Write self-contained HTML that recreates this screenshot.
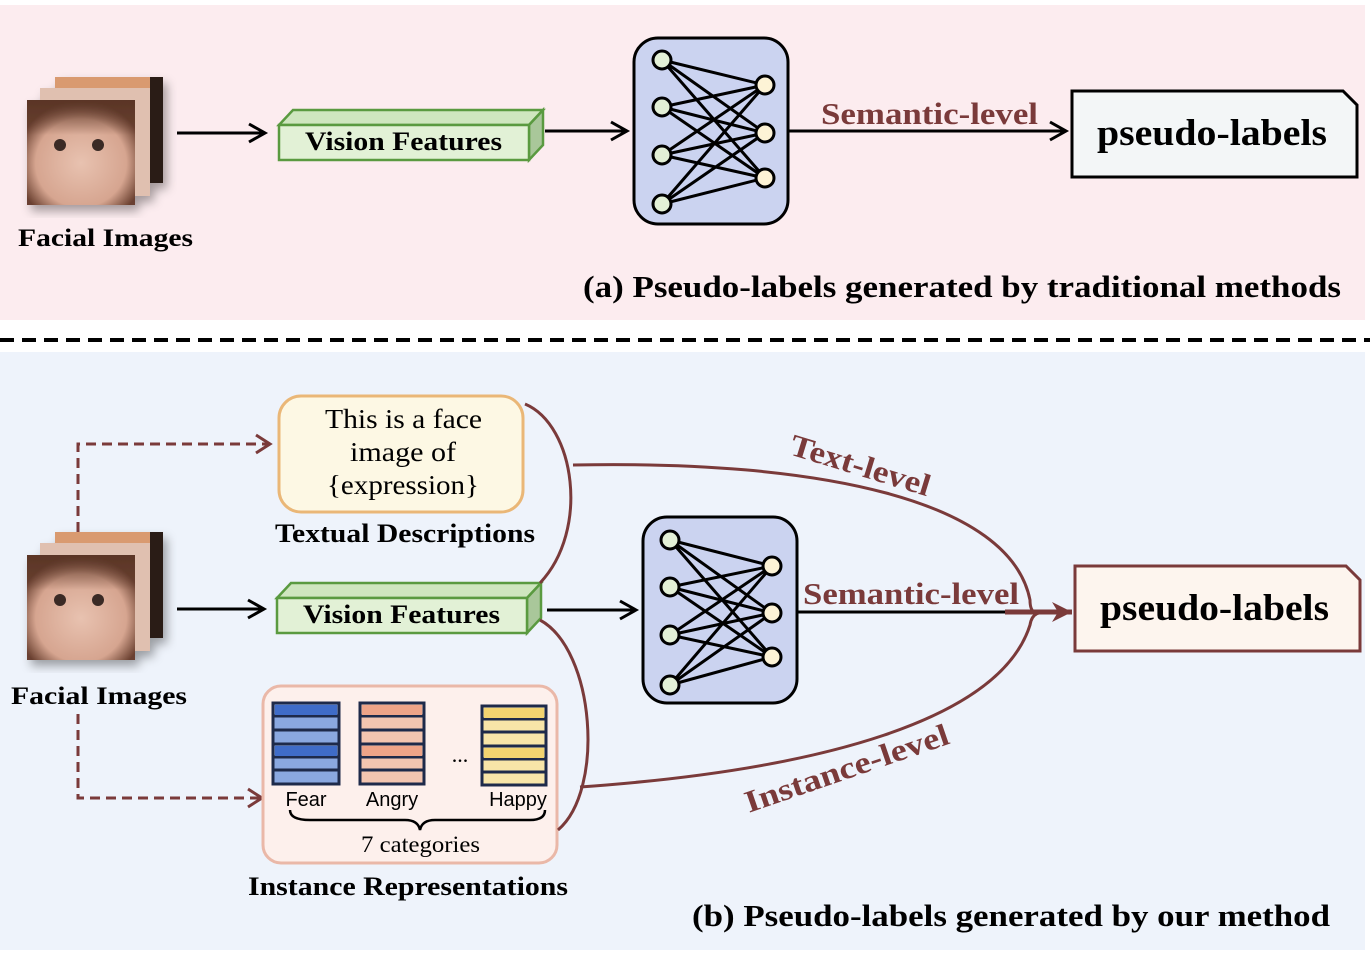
<!DOCTYPE html>
<html><head><meta charset="utf-8"><style>
body{margin:0;background:#fff;}
svg{display:block;font-family:"Liberation Serif",serif;}
</style></head><body>
<svg width="1370" height="957" viewBox="0 0 1370 957" xmlns="http://www.w3.org/2000/svg">
<defs>
<marker id="ab" markerWidth="30" markerHeight="30" refX="20" refY="15" orient="auto" markerUnits="userSpaceOnUse"><path d="M4,6 L20,15 L4,24" fill="none" stroke="#000" stroke-width="3"/></marker>
<marker id="ar" markerWidth="30" markerHeight="30" refX="20" refY="15" orient="auto" markerUnits="userSpaceOnUse"><path d="M6,6 L20,15 L6,24" fill="none" stroke="#7a3a3a" stroke-width="3"/></marker>
<marker id="arf" markerWidth="30" markerHeight="30" refX="24" refY="15" orient="auto" markerUnits="userSpaceOnUse"><path d="M4,5 L24,15 L4,25 L10,15Z" fill="#7a3a3a"/></marker>
<radialGradient id="face" cx="0.5" cy="0.6" r="0.6"><stop offset="0" stop-color="#e8c2b0"/><stop offset="0.7" stop-color="#d6a590"/><stop offset="1" stop-color="#6a4030"/></radialGradient>
<linearGradient id="hair" x1="0" y1="0" x2="0" y2="1"><stop offset="0" stop-color="#5a3526"/><stop offset="1" stop-color="#5a3526" stop-opacity="0"/></linearGradient>
<filter id="sh"><feDropShadow dx="4" dy="6" stdDeviation="5" flood-opacity="0.35"/></filter>
</defs>
<rect x="0" y="5" width="1365" height="315" fill="#fcecef"/>
<rect x="0" y="352" width="1365" height="598" fill="#eef3fb"/>
<line x1="0" y1="340" x2="1370" y2="340" stroke="#000" stroke-width="4" stroke-dasharray="14,8"/>

<g filter="url(#sh)">
<rect x="55" y="77" width="108" height="106" fill="#2a1a14"/>
<rect x="55" y="77" width="95" height="30" fill="#d99a70"/>
<rect x="40" y="88" width="110" height="108" fill="#e0c0b0"/>
<rect x="27" y="100" width="108" height="105" fill="url(#face)"/>
<rect x="27" y="100" width="108" height="35" fill="url(#hair)"/>
</g>
<circle cx="60" cy="145" r="6" fill="#3a2a25"/><circle cx="98" cy="145" r="6" fill="#3a2a25"/>
<text x="18" y="246" font-size="25" font-weight="bold" textLength="175" lengthAdjust="spacingAndGlyphs">Facial Images</text>
<line x1="177" y1="133" x2="265" y2="133" stroke="#000" stroke-width="3" marker-end="url(#ab)"/>
<polygon points="279,125 293,110 543,110 529,125" fill="#cfe6bf" stroke="#5a9a40" stroke-width="2.5"/>
<polygon points="529,125 543,110 543,145 529,160" fill="#a9c79a" stroke="#5a9a40" stroke-width="2.5"/>
<rect x="279" y="125" width="250" height="35" fill="#e2f1d6" stroke="#5a9a40" stroke-width="2.5"/>
<text x="305" y="150" font-size="26" font-weight="bold" textLength="197" lengthAdjust="spacingAndGlyphs">Vision Features</text>
<line x1="545" y1="131" x2="627" y2="131" stroke="#000" stroke-width="3" marker-end="url(#ab)"/>
<g>
<rect x="634" y="38" width="154" height="186" rx="24" fill="#cbd3f0" stroke="#000" stroke-width="3"/>
<path stroke="#000" stroke-width="3" d="M662,60L765,85M662,60L765,133M662,60L765,178M662,107L765,85M662,107L765,133M662,107L765,178M662,155L765,85M662,155L765,133M662,155L765,178M662,204L765,85M662,204L765,133M662,204L765,178"/>
<g stroke="#000" stroke-width="3"><circle cx="662" cy="60" r="9" fill="#e3f0d6"/><circle cx="662" cy="107" r="9" fill="#e3f0d6"/><circle cx="662" cy="155" r="9" fill="#e3f0d6"/><circle cx="662" cy="204" r="9" fill="#e3f0d6"/>
<circle cx="765" cy="85" r="9" fill="#fdf3d6"/><circle cx="765" cy="133" r="9" fill="#fdf3d6"/><circle cx="765" cy="178" r="9" fill="#fdf3d6"/></g>
</g>
<line x1="788" y1="131" x2="1066" y2="131" stroke="#000" stroke-width="3" marker-end="url(#ab)"/>
<text x="821" y="124" font-size="31" font-weight="bold" fill="#7a3a3a" textLength="217" lengthAdjust="spacingAndGlyphs">Semantic-level</text>
<path d="M1072,91 L1343,91 L1357,105 L1357,177 L1072,177Z" fill="#f3f6f7" stroke="#000" stroke-width="3"/>
<text x="1097" y="145" font-size="37" font-weight="bold" textLength="230" lengthAdjust="spacingAndGlyphs">pseudo-labels</text>
<text x="583" y="297" font-size="31" font-weight="bold" textLength="758" lengthAdjust="spacingAndGlyphs">(a) Pseudo-labels generated by traditional methods</text>

<g filter="url(#sh)">
<rect x="55" y="532" width="108" height="106" fill="#2a1a14"/>
<rect x="55" y="532" width="95" height="30" fill="#d99a70"/>
<rect x="40" y="543" width="110" height="108" fill="#e0c0b0"/>
<rect x="27" y="555" width="108" height="105" fill="url(#face)"/>
<rect x="27" y="555" width="108" height="35" fill="url(#hair)"/>
</g>
<circle cx="60" cy="600" r="6" fill="#3a2a25"/><circle cx="98" cy="600" r="6" fill="#3a2a25"/>
<text x="11" y="704" font-size="25" font-weight="bold" textLength="176" lengthAdjust="spacingAndGlyphs">Facial Images</text>
<path d="M78,532 L78,444 L270,444" fill="none" stroke="#7a3a3a" stroke-width="3" stroke-dasharray="10,6" marker-end="url(#ar)"/>
<path d="M78,714 L78,798 L262,798" fill="none" stroke="#7a3a3a" stroke-width="3" stroke-dasharray="10,6" marker-end="url(#ar)"/>
<line x1="177" y1="609" x2="264" y2="609" stroke="#000" stroke-width="3" marker-end="url(#ab)"/>

<rect x="279" y="396" width="244" height="116" rx="22" fill="#fdf8e4" stroke="#eab777" stroke-width="3"/>
<text font-size="27"><tspan x="325" y="428" textLength="157" lengthAdjust="spacingAndGlyphs">This is a face</tspan><tspan x="350" y="461" textLength="106" lengthAdjust="spacingAndGlyphs">image of</tspan><tspan x="327" y="494" textLength="152" lengthAdjust="spacingAndGlyphs">{expression}</tspan></text>
<text x="275" y="542" font-size="26" font-weight="bold" textLength="260" lengthAdjust="spacingAndGlyphs">Textual Descriptions</text>

<polygon points="277,598 291,583 541,583 527,598" fill="#cfe6bf" stroke="#5a9a40" stroke-width="2.5"/>
<polygon points="527,598 541,583 541,618 527,633" fill="#a9c79a" stroke="#5a9a40" stroke-width="2.5"/>
<rect x="277" y="598" width="250" height="35" fill="#e2f1d6" stroke="#5a9a40" stroke-width="2.5"/>
<text x="303" y="623" font-size="26" font-weight="bold" textLength="197" lengthAdjust="spacingAndGlyphs">Vision Features</text>
<line x1="547" y1="610" x2="636" y2="610" stroke="#000" stroke-width="3" marker-end="url(#ab)"/>

<rect x="263" y="686" width="294" height="177" rx="18" fill="#fdf0ec" stroke="#eab8a8" stroke-width="3"/>
<g stroke="#1e2a4a" stroke-width="3">
<rect x="273" y="703" width="66" height="81" fill="#8aa8e0"/>
<line x1="273" y1="716" x2="339" y2="716"/><line x1="273" y1="730" x2="339" y2="730"/><line x1="273" y1="744" x2="339" y2="744"/><line x1="273" y1="757" x2="339" y2="757"/><line x1="273" y1="770" x2="339" y2="770"/>
<rect x="360" y="703" width="64" height="81" fill="#f3c5b0"/>
<line x1="360" y1="716" x2="424" y2="716"/><line x1="360" y1="730" x2="424" y2="730"/><line x1="360" y1="744" x2="424" y2="744"/><line x1="360" y1="757" x2="424" y2="757"/><line x1="360" y1="770" x2="424" y2="770"/>
<rect x="482" y="706" width="64" height="79" fill="#f8e5a8"/>
<line x1="482" y1="719" x2="546" y2="719"/><line x1="482" y1="732" x2="546" y2="732"/><line x1="482" y1="746" x2="546" y2="746"/><line x1="482" y1="759" x2="546" y2="759"/><line x1="482" y1="772" x2="546" y2="772"/>
</g>
<g stroke="none"><rect x="275" y="705" width="62" height="10" fill="#3f6cc8"/><rect x="275" y="746" width="62" height="10" fill="#3f6cc8"/>
<rect x="362" y="705" width="60" height="10" fill="#eea488"/><rect x="362" y="746" width="60" height="10" fill="#eea488"/>
<rect x="484" y="708" width="60" height="10" fill="#f3d470"/><rect x="484" y="748" width="60" height="10" fill="#f3d470"/></g>
<text x="460" y="762" font-size="22" text-anchor="middle">...</text>
<g font-family="Liberation Sans, sans-serif" font-size="20"><text x="306" y="806" text-anchor="middle">Fear</text><text x="392" y="806" text-anchor="middle">Angry</text><text x="518" y="806" text-anchor="middle">Happy</text></g>
<path d="M290,810 Q290,820 310,820 L405,820 Q418,820 420,830 Q422,820 435,820 L530,820 Q545,820 545,810" fill="none" stroke="#000" stroke-width="2.5"/>
<text x="361" y="852" font-size="23" textLength="119" lengthAdjust="spacingAndGlyphs">7 categories</text>
<text x="248" y="895" font-size="26" font-weight="bold" textLength="320" lengthAdjust="spacingAndGlyphs">Instance Representations</text>

<g transform="translate(9,479)">
<rect x="634" y="38" width="154" height="186" rx="24" fill="#cbd3f0" stroke="#000" stroke-width="3"/>
<path stroke="#000" stroke-width="3" d="M661,61L763,87M661,61L763,134M661,61L763,178M661,108L763,87M661,108L763,134M661,108L763,178M661,156L763,87M661,156L763,134M661,156L763,178M661,206L763,87M661,206L763,134M661,206L763,178"/>
<g stroke="#000" stroke-width="3"><circle cx="661" cy="61" r="9" fill="#e3f0d6"/><circle cx="661" cy="108" r="9" fill="#e3f0d6"/><circle cx="661" cy="156" r="9" fill="#e3f0d6"/><circle cx="661" cy="206" r="9" fill="#e3f0d6"/>
<circle cx="763" cy="87" r="9" fill="#fdf3d6"/><circle cx="763" cy="134" r="9" fill="#fdf3d6"/><circle cx="763" cy="178" r="9" fill="#fdf3d6"/></g>
</g>

<g fill="none" stroke="#7a3a3a" stroke-width="3">
<path d="M525,404 C575,425 590,530 540,583"/>
<path d="M573,465 C820,460 1010,500 1030,600 C1030,618 1040,612 1050,612"/>
<path d="M540,620 C595,650 605,790 558,830"/>
<path d="M580,787 C820,770 1000,720 1030,625 C1032,612 1040,612 1050,612"/>
</g>
<line x1="797" y1="612" x2="1010" y2="612" stroke="#000" stroke-width="3"/>
<line x1="1005" y1="612" x2="1072" y2="612" stroke="#7a3a3a" stroke-width="5" marker-end="url(#arf)"/>
<text x="803" y="604" font-size="31" font-weight="bold" fill="#7a3a3a" textLength="216" lengthAdjust="spacingAndGlyphs">Semantic-level</text>
<text transform="translate(857,475) rotate(17)" x="-72" font-size="31" font-weight="bold" fill="#7a3a3a" textLength="145" lengthAdjust="spacingAndGlyphs">Text-level</text>
<text transform="translate(850,778) rotate(-19)" x="-107" font-size="31" font-weight="bold" fill="#7a3a3a" textLength="214" lengthAdjust="spacingAndGlyphs">Instance-level</text>
<path d="M1075,566 L1346,566 L1360,580 L1360,651 L1075,651Z" fill="#fdf5ee" stroke="#7a3a3a" stroke-width="3"/>
<text x="1100" y="620" font-size="37" font-weight="bold" textLength="229" lengthAdjust="spacingAndGlyphs">pseudo-labels</text>
<text x="692" y="926" font-size="31" font-weight="bold" textLength="638" lengthAdjust="spacingAndGlyphs">(b) Pseudo-labels generated by our method</text>
</svg>
</body></html>
